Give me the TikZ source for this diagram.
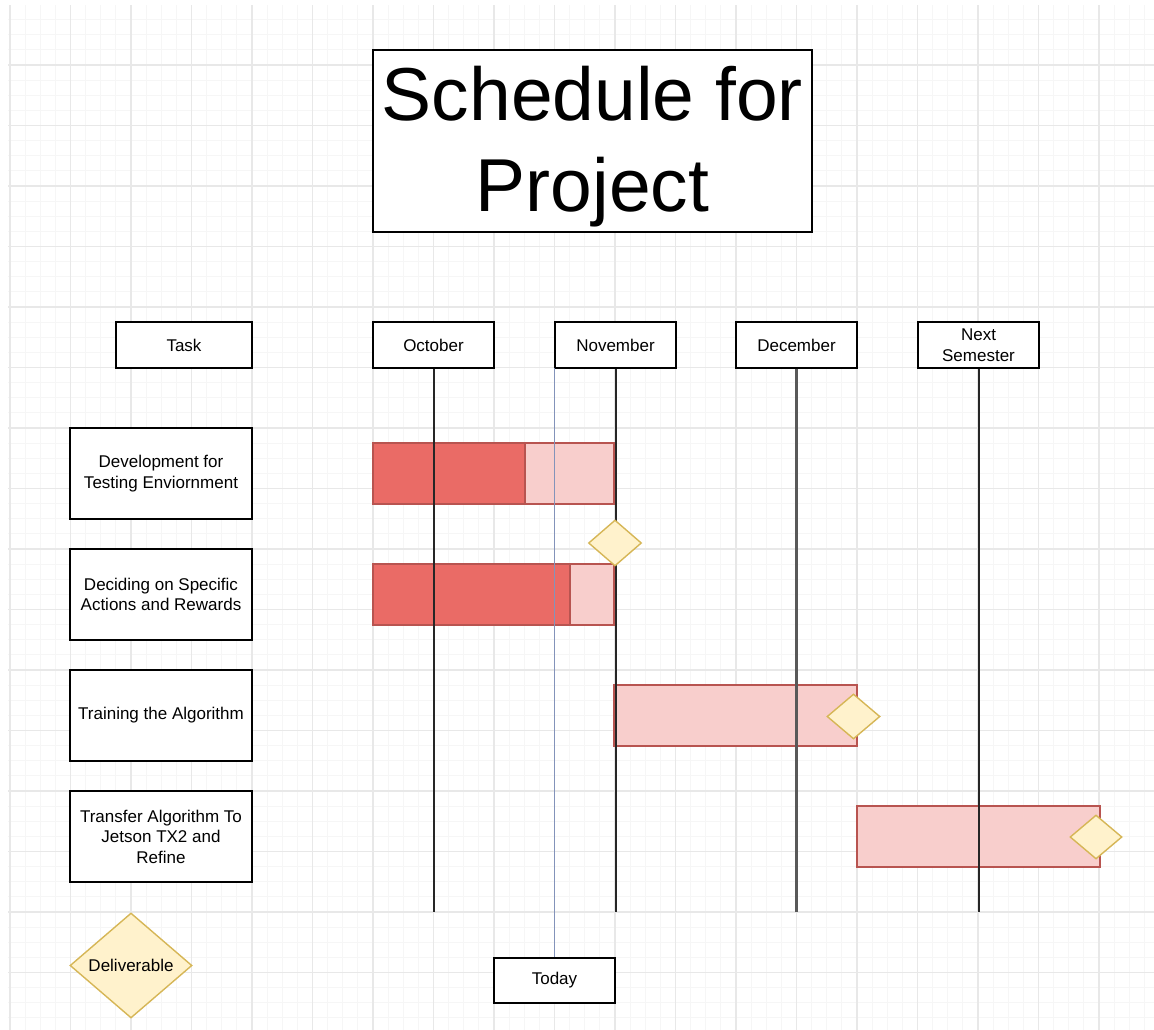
\documentclass[tikz,border=0pt]{standalone}
\usepackage{fontspec}
\setmainfont{Liberation Sans}
\usetikzlibrary{shapes.geometric}
\definecolor{darkbar}{HTML}{EA6B66}
\definecolor{lightbar}{HTML}{F8CECC}
\definecolor{barline}{HTML}{B85450}
\definecolor{delfill}{HTML}{FFF2CC}
\definecolor{delline}{HTML}{D6B656}
\definecolor{todayline}{HTML}{8393BA}
\definecolor{minorgrid}{HTML}{F6F6F6}
\definecolor{majorgrid}{HTML}{E8E8E8}
\begin{document}
\begin{tikzpicture}[x=1pt,y=-1pt,
  box/.style={draw=black, line width=1.4pt, fill=white, align=center, inner sep=0pt,
    font=\fontsize{17}{20.5}\selectfont},
  titlefont/.style={font=\fontsize{75}{91}\selectfont, align=center},
  darkseg/.style={draw=barline, fill=darkbar, line width=1.2pt, inner sep=0pt, minimum height=61pt},
  lightseg/.style={draw=barline, fill=lightbar, line width=1.2pt, inner sep=0pt, minimum height=61pt},
  milestone/.style={diamond, draw=delline, fill=delfill, line width=1.4pt, inner sep=0pt},
  monthline/.style={draw=black!85, line width=2pt},
  todaystyle/.style={draw=todayline, line width=1.3pt},
  minorline/.style={draw=minorgrid, line width=1pt},
  majorline/.style={draw=majorgrid, line width=1.1pt}]
\useasboundingbox (0,0) rectangle (1154,1030);
\fill[white] (0,0) rectangle (1154,1030);
% grid
\begin{scope}
\clip (8,6) rectangle (1154,1030);
\foreach \i in {0,...,77} {
  \draw[minorline] ({-5.125+15.125*\i},0) -- ({-5.125+15.125*\i},1030);
}
\foreach \i in {0,...,69} {
  \draw[minorline] (0,{4.5+15.125*\i}) -- (1154,{4.5+15.125*\i});
}
\foreach \i in {0,...,19} {
  \draw[majorline] ({10+60.5*\i},0) -- ({10+60.5*\i},1030);
}
\foreach \i in {0,...,17} {
  \draw[majorline] (0,{4.5+60.5*\i}) -- (1154,{4.5+60.5*\i});
}
\end{scope}

% title
\node[box, minimum width=439pt, minimum height=182pt,
  label={[titlefont, yshift=-6pt]center:Schedule for\\Project}] (title) at (592.5,141) {};

% header boxes
\node[box, minimum width=136pt, minimum height=46pt] (task) at (184,345) {Task};
\node[box, minimum width=121pt, minimum height=46pt] (oct) at (433.5,345) {October};
\node[box, minimum width=121pt, minimum height=46pt] (nov) at (615.5,345) {November};
\node[box, minimum width=121pt, minimum height=46pt] (dec) at (796.5,345) {December};
\node[box, minimum width=121pt, minimum height=46pt] (next) at (978.5,345) {Next\\Semester};

% task boxes
\node[box, minimum width=182pt, minimum height=91pt] (t1) at (161,473.5) {Development for\\Testing Enviornment};
\node[box, minimum width=182pt, minimum height=91pt] (t2) at (161,594.5) {Deciding on Specific\\Actions and Rewards};
\node[box, minimum width=182pt, minimum height=91pt] (t3) at (161,715.5) {Training the Algorithm};
\node[box, minimum width=182pt, minimum height=91pt] (t4) at (161,836.5) {Transfer Algorithm To\\Jetson TX2 and\\Refine};

% bars
\node[darkseg, minimum width=152pt] (b1a) at (449,473.5) {};
\node[lightseg, minimum width=89pt] (b1b) at (569.5,473.5) {};
\node[darkseg, minimum width=197pt] (b2a) at (471.5,594.5) {};
\node[lightseg, minimum width=44pt] (b2b) at (592,594.5) {};
\node[lightseg, minimum width=243pt] (b3) at (735.5,715.5) {};
\node[lightseg, minimum width=243pt] (b4) at (978.5,836.5) {};

% month lines
\coordinate (octend) at (433.5,912);
\coordinate (novend) at (615.5,912);
\coordinate (decend) at (796.5,912);
\coordinate (nextend) at (978.5,912);
\draw[monthline] (oct.south) -- (octend);
\draw[monthline] (nov.south) -- (novend);
\draw[monthline, draw=black!65, line width=2.6pt] (dec.south) -- (decend);
\draw[monthline] (next.south) -- (nextend);

% today
\node[box, minimum width=121pt, minimum height=45pt] (today) at (554.5,980.5) {Today};
\coordinate (todaytop) at (554.5,368);
\draw[todaystyle] (todaytop) -- (today.north);

% milestones
\node[milestone, minimum width=53pt, minimum height=46pt] (m1) at (615,543) {};
\node[milestone, minimum width=53pt, minimum height=45pt] (m3) at (853.5,716.5) {};
\node[milestone, minimum width=52pt, minimum height=44pt] (m4) at (1096,837) {};

% legend
\node[milestone, minimum width=122pt, minimum height=105pt,
  label={[font=\fontsize{17}{20.5}\selectfont]center:Deliverable}] (legend) at (131,965.5) {};
\end{tikzpicture}
\end{document}
